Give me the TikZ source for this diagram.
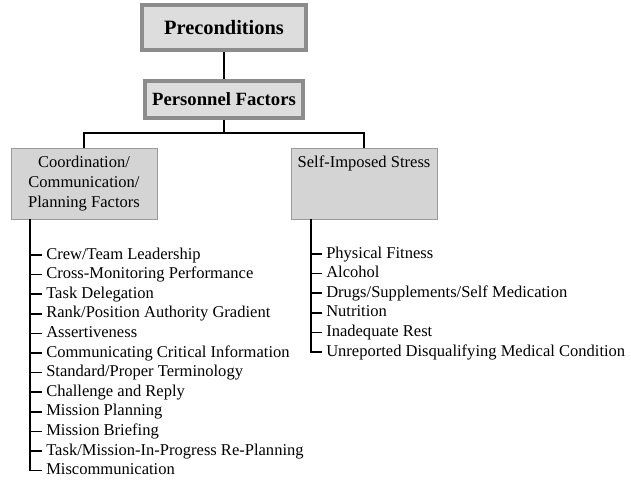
\documentclass[tikz,border=0pt]{standalone}
\usepackage{fontspec}
\setmainfont{Liberation Serif}
\usepackage{xcolor}
\usepackage{tikz}
\usetikzlibrary{positioning}
\definecolor{framecol}{HTML}{8C8C8C}
\definecolor{fillcol}{HTML}{D4D4D4}
\definecolor{thincol}{HTML}{9A9A9A}

\begin{document}
\begin{tikzpicture}[x=0.75pt,y=-0.75pt,
   topbox/.style={draw=framecol,line width=3pt,fill=fillcol!80,inner sep=0pt,font=\bfseries},
   catbox/.style={draw=thincol,fill=fillcol,inner sep=0pt,minimum width=109.5pt,
              minimum height=53.25pt,align=center,font=\fontsize{12.4}{14.8}\selectfont},
   item/.style={inner xsep=3pt,inner ysep=0pt,text height=10.2pt,text depth=4.1pt,
              anchor=west,font=\fontsize{12.4}{14.8}\selectfont},
   nextitem/.style={below=0pt of #1.south west,anchor=north west},
   wire/.style={line width=1.2pt},
]
\useasboundingbox (0,0) rectangle (631,482);

% top of the tree
\node[topbox,minimum width=123pt,minimum height=33.75pt,font=\bfseries\fontsize{15.3}{18}\selectfont]
       (pre) at (224,27.5) {Preconditions};
\node[topbox,minimum width=118.5pt,minimum height=27.75pt,font=\bfseries\fontsize{14}{17}\selectfont]
       (pers) at (224,99.5) {Personnel Factors};

% category boxes
\node[catbox] (ccp) at (84,183.5) {Coordination/\\Communication/\\Planning Factors};
\node[catbox,text height=14.25pt,text depth=39pt] (sis) at (364,183.5) {Self-Imposed Stress};

% tree wires
\coordinate (bus) at (224,133);
\draw[wire] (pre.south) -- (pers.north);
\draw[wire] (pers.south) -- (bus);
\draw[wire] (ccp.north) |- (bus) -| (sis.north);

% coordination items
\node[item] (ccp1) at (42,255) {Crew/Team Leadership};
\node[item,nextitem=ccp1] (ccp2) {Cross-Monitoring Performance};
\node[item,nextitem=ccp2] (ccp3) {Task Delegation};
\node[item,nextitem=ccp3] (ccp4) {Rank/Position Authority Gradient};
\node[item,nextitem=ccp4] (ccp5) {Assertiveness};
\node[item,nextitem=ccp5] (ccp6) {Communicating Critical Information};
\node[item,nextitem=ccp6] (ccp7) {Standard/Proper Terminology};
\node[item,nextitem=ccp7] (ccp8) {Challenge and Reply};
\node[item,nextitem=ccp8] (ccp9) {Mission Planning};
\node[item,nextitem=ccp9] (ccp10) {Mission Briefing};
\node[item,nextitem=ccp10] (ccp11) {Task/Mission-In-Progress Re-Planning};
\node[item,nextitem=ccp11] (ccp12) {Miscommunication};

% self-imposed stress items
\node[item] (sis1) at (322,254) {Physical Fitness};
\node[item,nextitem=sis1] (sis2) {Alcohol};
\node[item,nextitem=sis2] (sis3) {Drugs/Supplements/Self Medication};
\node[item,nextitem=sis3] (sis4) {Nutrition};
\node[item,nextitem=sis4] (sis5) {Inadequate Rest};
\node[item,nextitem=sis5] (sis6) {Unreported Disqualifying Medical Condition};

% item stems
\coordinate (ccpstem) at ([xshift=14.6pt]ccp.south west);
\coordinate (sisstem) at ([xshift=15pt]sis.south west);
\draw[wire] (ccpstem) |- (ccp12.west);
\draw[wire] (ccpstem |- ccp1.west) -- (ccp1.west);
\draw[wire] (ccpstem |- ccp2.west) -- (ccp2.west);
\draw[wire] (ccpstem |- ccp3.west) -- (ccp3.west);
\draw[wire] (ccpstem |- ccp4.west) -- (ccp4.west);
\draw[wire] (ccpstem |- ccp5.west) -- (ccp5.west);
\draw[wire] (ccpstem |- ccp6.west) -- (ccp6.west);
\draw[wire] (ccpstem |- ccp7.west) -- (ccp7.west);
\draw[wire] (ccpstem |- ccp8.west) -- (ccp8.west);
\draw[wire] (ccpstem |- ccp9.west) -- (ccp9.west);
\draw[wire] (ccpstem |- ccp10.west) -- (ccp10.west);
\draw[wire] (ccpstem |- ccp11.west) -- (ccp11.west);
\draw[wire] (sisstem) |- (sis6.west);
\draw[wire] (sisstem |- sis1.west) -- (sis1.west);
\draw[wire] (sisstem |- sis2.west) -- (sis2.west);
\draw[wire] (sisstem |- sis3.west) -- (sis3.west);
\draw[wire] (sisstem |- sis4.west) -- (sis4.west);
\draw[wire] (sisstem |- sis5.west) -- (sis5.west);
\end{tikzpicture}
\end{document}
